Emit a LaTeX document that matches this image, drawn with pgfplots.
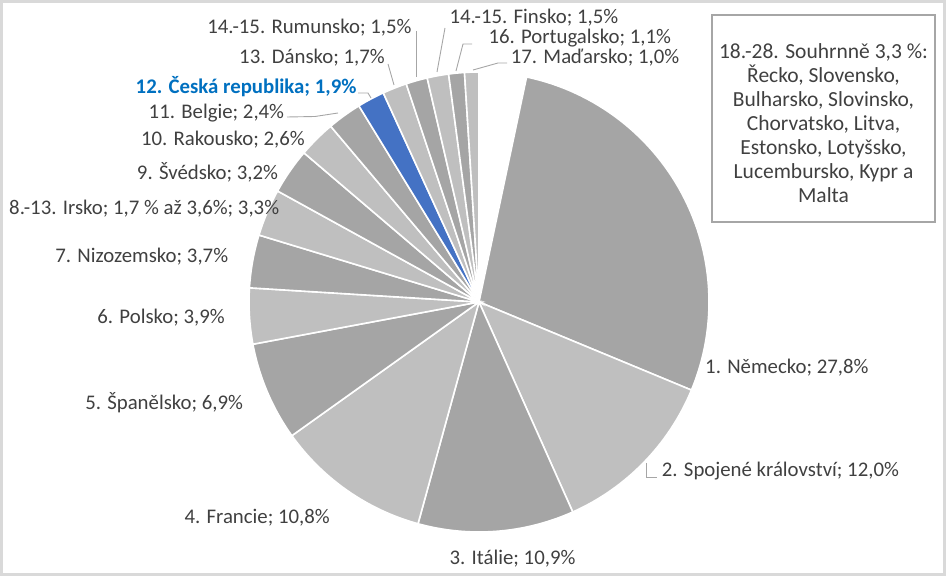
\documentclass[border=0pt]{standalone}
\usepackage{pgfplots}
\pgfplotsset{compat=1.18}
\usepackage{fontspec}
\setmainfont{Carlito}
\definecolor{dk}{HTML}{A5A5A5}
\definecolor{lt}{HTML}{BFBFBF}
\definecolor{cz}{HTML}{4472C4}
\definecolor{txt}{HTML}{404040}
\definecolor{czt}{HTML}{0070C0}
\definecolor{frm}{HTML}{D9D9D9}
\definecolor{lead}{HTML}{A6A6A6}
\begin{document}
\begin{tikzpicture}
\begin{axis}[width=946pt,height=576pt,scale only axis,
  xmin=0,xmax=946,ymin=0,ymax=576,hide axis,clip=false]
\pgfplotsextra{
  \gdef\total{99.5}
  \gdef\cum{0}
  \foreach \v/\c in {3.3/white, 27.8/dk, 12.0/lt, 10.9/dk, 10.8/lt, 6.9/dk, 3.9/lt, 3.7/dk, 3.3/lt, 3.2/dk, 2.6/lt, 2.4/dk, 1.9/cz, 1.7/lt, 1.5/dk, 1.5/lt, 1.1/dk, 1.0/lt}{
    \pgfmathsetmacro\sa{90-(360/\total)*\cum}
    \pgfmathsetmacro\sb{90-(360/\total)*(\cum+\v)}
    \fill[\c, draw=white, line width=1.6pt] (axis cs:479,274) -- ++(\sa:230pt) arc[start angle=\sa, end angle=\sb, radius=230pt] -- cycle;
    \pgfmathsetmacro\sn{\cum+\v}
    \xdef\cum{\sn}
  }
  \draw[frm, line width=3pt] (axis cs:1.5,1.5) rectangle (axis cs:944.5,574.5);
  \draw[lead, line width=1.2pt] (axis cs:712,354) rectangle (axis cs:935,561);
}
% leader lines
\addplot[lead, line width=0.9pt, no marks] coordinates {(646,113) (646,99) (657,99)};
\addplot[lead, line width=0.9pt, no marks] coordinates {(287,459) (315,459.5) (338,463)};
\addplot[lead, line width=0.9pt, no marks] coordinates {(358,483) (368,483) (371,478)};
\addplot[lead, line width=0.9pt, no marks] coordinates {(388,512) (394,491)};
\addplot[lead, line width=0.9pt, no marks] coordinates {(416,545) (416,499)};
\addplot[lead, line width=0.9pt, no marks] coordinates {(445,548) (437,504)};
\addplot[lead, line width=0.9pt, no marks] coordinates {(472,532) (463,532) (456,505)};
\addplot[lead, line width=0.9pt, no marks] coordinates {(507,513) (498,513) (473,506)};
% labels
\begin{scope}[every node/.style={inner sep=0pt, text=txt, font=\fontsize{20.8}{24}\selectfont}]
\node[anchor=base west] at (axis cs:705,202.7) {1. Německo; 27,8\%};
\node[anchor=base west] at (axis cs:661.7,99.3) {2. Spojené království; 12,0\%};
\node[anchor=base] at (axis cs:512.5,11) {3. Itálie; 10,9\%};
\node[anchor=base east] at (axis cs:330,52.7) {4. Francie; 10,8\%};
\node[anchor=base east] at (axis cs:243.3,166) {5. Španělsko; 6,9\%};
\node[anchor=base east] at (axis cs:225,252.7) {6. Polsko; 3,9\%};
\node[anchor=base east] at (axis cs:228.3,313.3) {7. Nizozemsko; 3,7\%};
\node[anchor=base east] at (axis cs:279.3,361) {8.-13. Irsko; 1,7 \% až 3,6\%; 3,3\%};
\node[anchor=base east] at (axis cs:278.3,396) {9. Švédsko; 3,2\%};
\node[anchor=base east] at (axis cs:305,430) {10. Rakousko; 2,6\%};
\node[anchor=base east] at (axis cs:284.3,457.7) {11. Belgie; 2,4\%};
\node[anchor=base east, text=czt, font=\fontsize{20.8}{24}\selectfont\bfseries] at (axis cs:356.7,482.7) {12. Česká republika; 1,9\%};
\node[anchor=base east] at (axis cs:385,512) {13. Dánsko; 1,7\%};
\node[anchor=base east] at (axis cs:411.7,542.7) {14.-15. Rumunsko; 1,5\%};
\node[anchor=base west] at (axis cs:449.3,552.7) {14.-15. Finsko; 1,5\%};
\node[anchor=base west] at (axis cs:488.3,532) {16. Portugalsko; 1,1\%};
\node[anchor=base west] at (axis cs:510.7,512.7) {17. Maďarsko; 1,0\%};
\end{scope}
\begin{scope}[every node/.style={inner sep=0pt, text=txt, font=\fontsize{21.5}{24}\selectfont}]
\node[anchor=base] at (axis cs:823.5,517) {18.-28. Souhrnně 3,3 \%:};
\node[anchor=base] at (axis cs:823.5,493) {Řecko, Slovensko,};
\node[anchor=base] at (axis cs:823.5,469) {Bulharsko, Slovinsko,};
\node[anchor=base] at (axis cs:823.5,445) {Chorvatsko, Litva,};
\node[anchor=base] at (axis cs:823.5,421) {Estonsko, Lotyšsko,};
\node[anchor=base] at (axis cs:823.5,397) {Lucembursko, Kypr a};
\node[anchor=base] at (axis cs:823.5,373) {Malta};
\end{scope}
\end{axis}
\end{tikzpicture}
\end{document}
